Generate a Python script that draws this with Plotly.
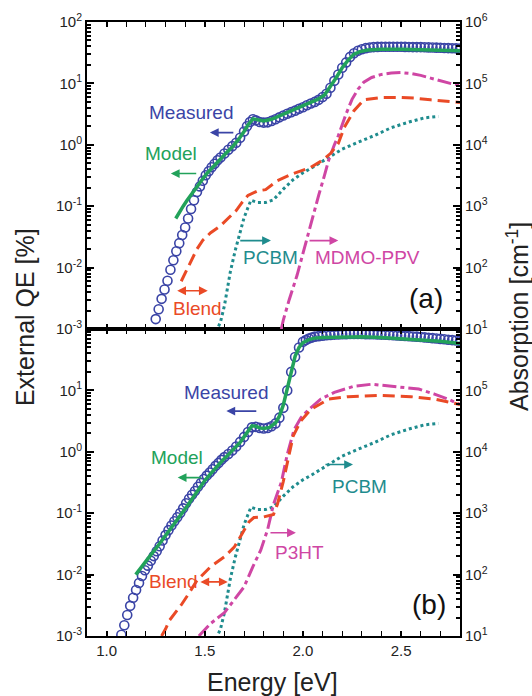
import math
import plotly.graph_objects as go

# ---------------- data ----------------
# Panel (a): MDMO-PPV:PCBM
meas_a_e = [1.250, 1.265, 1.280, 1.295, 1.310, 1.325, 1.340, 1.355, 1.370, 1.385, 1.400, 1.415, 1.430,
            1.445, 1.460, 1.475, 1.490, 1.505, 1.520, 1.535, 1.550, 1.565, 1.580, 1.600, 1.620, 1.640,
            1.660, 1.680, 1.700, 1.715, 1.730, 1.745, 1.760, 1.780, 1.800, 1.820, 1.840, 1.860, 1.880,
            1.900, 1.920, 1.940, 1.960, 1.980, 2.000, 2.020, 2.040, 2.060, 2.080, 2.100, 2.120, 2.140,
            2.160, 2.180, 2.200, 2.220, 2.240, 2.260, 2.280, 2.300, 2.320, 2.340, 2.360, 2.380, 2.400,
            2.420, 2.440, 2.460, 2.480, 2.500, 2.520, 2.540, 2.560, 2.580, 2.600, 2.620, 2.640, 2.660,
            2.680, 2.700, 2.720, 2.740, 2.760, 2.780, 2.800]
meas_a_qe = [0.00145, 0.0021, 0.0031, 0.0044, 0.0061, 0.0092, 0.0132, 0.0185, 0.025, 0.034, 0.045, 0.063,
             0.090, 0.125, 0.17, 0.21, 0.26, 0.32, 0.37, 0.43, 0.49, 0.56, 0.62, 0.72, 0.83, 0.95, 1.08,
             1.3, 1.65, 2.0, 2.35, 2.6, 2.5, 2.35, 2.3, 2.32, 2.45, 2.6, 2.8, 3.0, 3.2, 3.4, 3.6, 3.85,
             4.1, 4.4, 4.7, 5.0, 5.4, 6.0, 6.8, 8.5, 11, 14, 18, 22, 27, 31, 34, 36, 37.5, 38.5, 39, 39.3,
             39.5, 39.5, 39.5, 39.5, 39.5, 39.5, 39.3, 39.2, 39, 39, 39, 38.8, 38.6, 38.4, 38.2, 38, 37.8,
             37.6, 37.4, 37.2, 37]
model_a_e = [1.352, 1.37, 1.39, 1.41, 1.43, 1.45, 1.47, 1.49, 1.51, 1.53, 1.55, 1.58, 1.61, 1.64, 1.67,
             1.70, 1.72, 1.745, 1.77, 1.80, 1.84, 1.88, 1.92, 1.96, 2.00, 2.04, 2.08, 2.11, 2.14, 2.17,
             2.20, 2.23, 2.26, 2.29, 2.33, 2.40, 2.50, 2.60, 2.70, 2.80]
model_a_qe = [0.063, 0.08, 0.10, 0.125, 0.155, 0.19, 0.23, 0.28, 0.34, 0.40, 0.47, 0.60, 0.74, 0.92, 1.2,
              1.65, 2.1, 2.65, 2.55, 2.45, 2.6, 2.95, 3.4, 3.8, 4.3, 4.9, 5.6, 6.5, 8.8, 12.5, 18, 24,
              30, 33, 35, 36, 36, 35.5, 35, 34]
blend_a_e = [1.38, 1.41, 1.44, 1.46, 1.49, 1.53, 1.58, 1.62, 1.66, 1.69, 1.72, 1.77, 1.81, 1.87, 1.95,
             2.04, 2.10, 2.14, 2.18, 2.21, 2.26, 2.31, 2.40, 2.49, 2.57, 2.65, 2.72, 2.80]
blend_a_abs = [60, 95, 145, 200, 280, 370, 480, 630, 850, 1150, 1500, 1780, 1860, 2600, 3400, 4300, 5600,
               7200, 10500, 19000, 36000, 54000, 59000, 59000, 57500, 54000, 51000, 49000]
mdmo_e = [1.89, 1.90, 1.93, 1.97, 2.00, 2.03, 2.06, 2.08, 2.11, 2.13, 2.16, 2.18, 2.22, 2.25, 2.28, 2.31,
          2.35, 2.40, 2.45, 2.50, 2.55, 2.60, 2.65, 2.70, 2.75, 2.80]
mdmo_abs = [10, 14, 30, 75, 170, 400, 900, 1500, 3200, 5500, 10000, 14000, 32000, 55000, 80000, 105000,
            125000, 140000, 148000, 150000, 145000, 135000, 122000, 110000, 100000, 93000]
pcbm_e = [1.57, 1.58, 1.60, 1.615, 1.63, 1.655, 1.68, 1.70, 1.72, 1.735, 1.77, 1.81, 1.85, 1.90, 1.95,
          2.00, 2.05, 2.13, 2.20, 2.28, 2.36, 2.45, 2.54, 2.62, 2.69]
pcbm_abs = [11, 13, 24, 45, 85, 190, 380, 650, 950, 1250, 1150, 1150, 1270, 1900, 2700, 3500, 4300, 6200,
            8500, 11000, 14000, 19000, 23500, 27500, 29000]

# Panel (b): P3HT:PCBM
meas_b_e = [1.075, 1.09, 1.105, 1.12, 1.135, 1.15, 1.165, 1.18, 1.195, 1.21, 1.225, 1.24, 1.255, 1.27,
            1.285, 1.30, 1.315, 1.33, 1.345, 1.36, 1.375, 1.39, 1.405, 1.42, 1.435, 1.45, 1.465, 1.48,
            1.495, 1.51, 1.525, 1.54, 1.555, 1.57, 1.585, 1.60, 1.62, 1.64, 1.66, 1.68, 1.70, 1.72,
            1.74, 1.76, 1.78, 1.80, 1.82, 1.84, 1.86, 1.88, 1.90, 1.92, 1.94, 1.96, 1.98, 2.00, 2.015,
            2.03, 2.045, 2.06, 2.08, 2.10, 2.12, 2.14, 2.16, 2.18, 2.20, 2.22, 2.24, 2.26, 2.28, 2.30,
            2.32, 2.34, 2.36, 2.38, 2.40, 2.42, 2.44, 2.46, 2.48, 2.50, 2.52, 2.54, 2.56, 2.58, 2.60,
            2.62, 2.64, 2.66, 2.68, 2.70, 2.72, 2.74, 2.76, 2.78, 2.80]
meas_b_qe = [0.00105, 0.0015, 0.0022, 0.0031, 0.0042, 0.0056, 0.0073, 0.0095, 0.0118, 0.0140, 0.0168,
             0.020, 0.024, 0.029, 0.036, 0.044, 0.053, 0.063, 0.074, 0.086, 0.101, 0.12, 0.145, 0.172,
             0.20, 0.23, 0.27, 0.31, 0.36, 0.41, 0.46, 0.52, 0.59, 0.66, 0.74, 0.82, 0.92, 1.05, 1.22,
             1.45, 1.75, 2.1, 2.5, 2.55, 2.45, 2.4, 2.45, 2.6, 2.9, 3.6, 5.2, 10, 20, 35, 50, 62, 66,
             70, 72.5, 75, 76.5, 78, 79, 80, 81, 81.5, 82, 82.5, 83, 83, 83, 83, 82.5, 82, 82, 81.5, 81,
             80.5, 80, 79, 78.5, 78, 77, 76.5, 75.5, 75, 74, 73, 72, 71, 70, 69, 68, 67, 66, 65, 64]
model_b_e = [1.148, 1.17, 1.20, 1.23, 1.26, 1.29, 1.32, 1.35, 1.38, 1.41, 1.44, 1.47, 1.50, 1.53, 1.56,
             1.59, 1.62, 1.65, 1.68, 1.70, 1.72, 1.74, 1.76, 1.78, 1.80, 1.83, 1.86, 1.88, 1.90, 1.92,
             1.94, 1.96, 1.98, 2.00, 2.03, 2.06, 2.10, 2.20, 2.30, 2.40, 2.50, 2.60, 2.70, 2.80]
model_b_qe = [0.0100, 0.0125, 0.0165, 0.022, 0.029, 0.039, 0.052, 0.070, 0.095, 0.13, 0.18, 0.25, 0.34,
              0.44, 0.57, 0.72, 0.90, 1.12, 1.42, 1.75, 2.2, 2.65, 2.6, 2.45, 2.4, 2.5, 2.95, 3.8, 5.8,
              11, 21, 36, 50, 60, 67, 71, 73, 75, 75, 73, 70, 67, 63, 58]
blend_b_e = [1.28, 1.30, 1.32, 1.38, 1.42, 1.46, 1.53, 1.60, 1.65, 1.70, 1.725, 1.75, 1.80, 1.85, 1.87,
             1.90, 1.92, 1.95, 1.99, 2.04, 2.13, 2.23, 2.38, 2.55, 2.67, 2.80]
blend_b_abs = [10, 13, 18, 32, 50, 80, 135, 195, 280, 540, 720, 850, 870, 950, 1400, 3300, 6500, 18000,
               32000, 49000, 72000, 79000, 83000, 79000, 72000, 59000]
p3ht_e = [1.47, 1.53, 1.60, 1.65, 1.70, 1.745, 1.785, 1.82, 1.85, 1.89, 1.92, 1.955, 1.99, 2.03, 2.09,
          2.16, 2.26, 2.35, 2.46, 2.59, 2.67, 2.74, 2.80]
p3ht_abs = [10, 16, 24, 39, 63, 135, 250, 540, 1400, 3200, 9000, 23000, 36000, 49000, 72000, 93000,
            117000, 126000, 117000, 105000, 87000, 72000, 59000]

qe_ticks = [1e-3, 1e-2, 1e-1, 1e0, 1e1, 1e2]
qe_text = ["10<sup>-3</sup>", "10<sup>-2</sup>", "10<sup>-1</sup>", "10<sup>0</sup>", "10<sup>1</sup>", "10<sup>2</sup>"]
abs_ticks = [1e1, 1e2, 1e3, 1e4, 1e5, 1e6]
abs_text = ["10<sup>1</sup>", "10<sup>2</sup>", "10<sup>3</sup>", "10<sup>4</sup>", "10<sup>5</sup>", "10<sup>6</sup>"]

# ---------------- styling ----------------
BLUE = "#3a44a6"
GREEN = "#22a25a"
RED = "#ea4a26"
TEAL = "#1f8c8e"
MAG = "#cf46a4"
FONT = "Liberation Sans, Arial, sans-serif"

fig = go.Figure()


def add_panel(xa, ya, yabs, me, mq, mo_e, mo_q, curves):
    fig.add_trace(go.Scatter(x=me, y=mq, xaxis=xa, yaxis=ya, mode="markers",
                             marker=dict(symbol="circle-open", size=9, color=BLUE, line=dict(width=1.6)),
                             showlegend=False))
    for (e, v, col, dash) in curves:
        fig.add_trace(go.Scatter(x=e, y=v, xaxis=xa, yaxis=yabs, mode="lines",
                                 line=dict(color=col, width=3, dash=dash), showlegend=False))
    fig.add_trace(go.Scatter(x=mo_e, y=mo_q, xaxis=xa, yaxis=ya, mode="lines",
                             line=dict(color=GREEN, width=3.5), showlegend=False))


add_panel("x2", "y", "y3", meas_a_e, meas_a_qe, model_a_e, model_a_qe,
          [(pcbm_e, pcbm_abs, TEAL, "3px,3px"),
           (mdmo_e, mdmo_abs, MAG, "14px,4px,4px,4px"),
           (blend_a_e, blend_a_abs, RED, "12px,6px")])
add_panel("x", "y2", "y4", meas_b_e, meas_b_qe, model_b_e, model_b_qe,
          [(pcbm_e, pcbm_abs, TEAL, "3px,3px"),
           (p3ht_e, p3ht_abs, MAG, "14px,4px,4px,4px"),
           (blend_b_e, blend_b_abs, RED, "12px,6px")])

minor_qe = [m * 10 ** k for k in range(-3, 2) for m in range(2, 10)]
minor_abs = [m * 10 ** k for k in range(1, 6) for m in range(2, 10)]

xcommon = dict(range=[0.9, 2.8], showline=True, linewidth=2, linecolor="black", mirror="allticks",
               ticks="inside", ticklen=5, tickwidth=1.5, tickcolor="black", tick0=1.0, dtick=0.5,
               tickformat=".1f", showgrid=False, zeroline=False, automargin=False,
               minor=dict(ticks="inside", dtick=0.1, ticklen=5, tickwidth=1.2, tickcolor="black", showgrid=False),
               tickfont=dict(size=15, family=FONT, color="#222"))
ycommon = dict(type="log", showline=True, linewidth=2, linecolor="black", ticks="inside", ticklen=7,
               tickwidth=1.5, tickcolor="black", showgrid=False, zeroline=False, tickmode="array",
               automargin=False, tickfont=dict(size=15, family=FONT, color="#222"))

fig.update_layout(
    width=532, height=696,
    margin=dict(l=87, r=72, t=22, b=60, autoexpand=False),
    paper_bgcolor="white", plot_bgcolor="white",
    font=dict(family=FONT, color="#222"),
    xaxis=dict(xcommon, anchor="y2", domain=[0, 1]),
    xaxis2=dict(xcommon, anchor="y", domain=[0, 1], matches="x", showticklabels=False),
    yaxis=dict(ycommon, domain=[0.5, 1], anchor="x2", range=[-3, 2], tickvals=qe_ticks, ticktext=qe_text,
               minor=dict(ticks="inside", tickvals=minor_qe, ticklen=4, tickcolor="black", showgrid=False)),
    yaxis2=dict(ycommon, domain=[0, 0.5], anchor="x", range=[-3, 2], tickvals=qe_ticks[:-1], ticktext=qe_text[:-1],
                minor=dict(ticks="inside", tickvals=minor_qe, ticklen=4, tickcolor="black", showgrid=False)),
    yaxis3=dict(ycommon, overlaying="y", side="right", anchor="x2", range=[1, 6], tickvals=abs_ticks, ticktext=abs_text,
                minor=dict(ticks="inside", tickvals=minor_abs, ticklen=4, tickcolor="black", showgrid=False)),
    yaxis4=dict(ycommon, overlaying="y2", side="right", anchor="x", range=[1, 6], tickvals=abs_ticks[:-1], ticktext=abs_text[:-1],
                minor=dict(ticks="inside", tickvals=minor_abs, ticklen=4, tickcolor="black", showgrid=False)),
)

ann = []


def text(xr, yr, e, v, s, col, size=19):
    ann.append(dict(x=e, y=math.log10(v), xref=xr, yref=yr, text=s, showarrow=False,
                    font=dict(size=size, color=col, family=FONT), xanchor="center", yanchor="middle"))


def arrow(xr, yr, e0, e1, v, col, both=False):
    ann.append(dict(x=e1, y=math.log10(v), ax=e0, ay=math.log10(v), xref=xr, yref=yr, axref=xr, ayref=yr,
                    text="", showarrow=True, arrowhead=2, arrowsize=1.1, arrowwidth=1.6, arrowcolor=col,
                    arrowside="end+start" if both else "end", startarrowhead=2, startarrowsize=1.1,
                    standoff=0, startstandoff=0))


# panel (a)
text("x2", "y", 1.434, 3.4, "Measured", BLUE)
arrow("x2", "y", 1.653, 1.526, 1.58, BLUE)
text("x2", "y", 1.327, 0.72, "Model", GREEN)
arrow("x2", "y", 1.464, 1.327, 0.34, GREEN)
text("x2", "y", 1.464, 0.00214, "Blend", RED)
arrow("x2", "y", 1.352, 1.515, 0.0042, RED, both=True)
text("x2", "y", 1.837, 0.0145, "PCBM", TEAL)
arrow("x2", "y", 1.673, 1.837, 0.0275, TEAL)
text("x2", "y", 2.327, 0.0145, "MDMO-PPV", MAG)
arrow("x2", "y", 2.026, 2.18, 0.0275, MAG)
text("x2", "y", 2.628, 0.0031, "(a)", "#111", size=28)
# panel (b)
text("x", "y2", 1.612, 9.3, "Measured", BLUE)
arrow("x", "y2", 1.77, 1.61, 4.6, BLUE)
text("x", "y2", 1.357, 0.81, "Model", GREEN)
arrow("x", "y2", 1.49, 1.362, 0.38, GREEN)
text("x", "y2", 1.342, 0.0076, "Blend", RED)
arrow("x", "y2", 1.47, 1.617, 0.0076, RED, both=True)
text("x", "y2", 1.98, 0.023, "P3HT", MAG)
arrow("x", "y2", 1.827, 1.964, 0.048, MAG)
text("x", "y2", 2.286, 0.27, "PCBM", TEAL)
arrow("x", "y2", 2.107, 2.255, 0.62, TEAL)
text("x", "y2", 2.64, 0.0032, "(b)", "#111", size=28)

# axis titles
ann.append(dict(x=-0.166, y=0.5195, xref="paper", yref="paper", text="External QE [%]", textangle=-90,
                showarrow=False, font=dict(size=25, family=FONT, color="#222"), xanchor="center", yanchor="middle"))
ann.append(dict(x=1.1555, y=0.5195, xref="paper", yref="paper", text="Absorption [cm<sup>-1</sup>]", textangle=-90,
                showarrow=False, font=dict(size=25, family=FONT, color="#222"), xanchor="center", yanchor="middle"))
ann.append(dict(x=0.496, y=-0.075, xref="paper", yref="paper", text="Energy [eV]",
                showarrow=False, font=dict(size=25, family=FONT, color="#222"), xanchor="center", yanchor="middle"))

fig.update_layout(annotations=ann)
fig.write_html("out.html", config={"displayModeBar": False},
               post_script="document.body.style.margin='0px';document.body.style.overflow='hidden';")
